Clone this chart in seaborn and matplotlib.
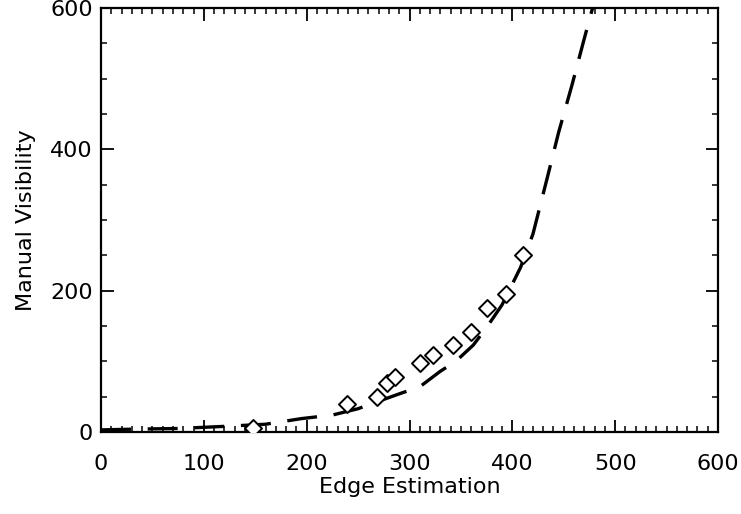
import matplotlib
matplotlib.use("Agg")
import matplotlib.pyplot as plt
from matplotlib.ticker import MultipleLocator
import seaborn as sns
import pandas as pd

# measured points (diamonds)
edge_pts = [148, 239, 268, 278, 286, 310, 323, 342, 360, 375, 394, 410]
manual_pts = [5, 40, 50, 69, 78, 98, 109, 123, 142, 175, 195, 251]

# fitted curve (dashed)
curve_x = [0, 30, 75, 120, 160, 195, 225, 250, 265, 292, 310, 330, 345, 362,
           375, 390, 408, 420, 434, 445, 458, 470, 478]
curve_y = [3, 4, 5, 8, 11, 19, 24, 33, 41, 55, 64, 86, 100, 123,
           148, 180, 233, 280, 360, 424, 491, 557, 600]

sns.set_style("ticks")
plt.rcParams["font.family"] = ["DejaVu Sans"]
plt.rcParams["text.color"] = "black"
plt.rcParams["axes.labelcolor"] = "black"

fig = plt.figure(figsize=(7.41, 5.14), dpi=100)
ax = fig.add_axes([0.1363, 0.1595, 0.8327, 0.8250])

curve = pd.DataFrame({"x": curve_x, "y": curve_y})
pts = pd.DataFrame({"x": edge_pts, "y": manual_pts})

sns.lineplot(data=curve, x="x", y="y", ax=ax, color="black", linewidth=2.4,
             dashes=False, sort=False)
ax.lines[0].set_dashes((9, 5))
sns.scatterplot(data=pts, x="x", y="y", ax=ax, marker="D", s=75,
                facecolor="white", edgecolor="black", linewidth=1.4, zorder=3)

ax.set_xlim(0, 600)
ax.set_ylim(0, 600)
ax.xaxis.set_major_locator(MultipleLocator(100))
ax.xaxis.set_minor_locator(MultipleLocator(10))
ax.yaxis.set_major_locator(MultipleLocator(200))
ax.yaxis.set_minor_locator(MultipleLocator(50))
ax.tick_params(which="both", direction="in", top=True, right=True,
               colors="black", labelsize=16)
ax.tick_params(which="major", length=9, width=1.3)
ax.tick_params(which="minor", length=4, width=1.1)
ax.tick_params(axis="x", pad=16)
ax.tick_params(axis="y", pad=6)
for s in ax.spines.values():
    s.set_linewidth(1.6)
    s.set_color("black")

ax.set_xlabel("Edge Estimation", fontsize=16, labelpad=2)
ax.set_ylabel("Manual Visibility", fontsize=16, labelpad=10)

fig.savefig("out.png", dpi=100)
